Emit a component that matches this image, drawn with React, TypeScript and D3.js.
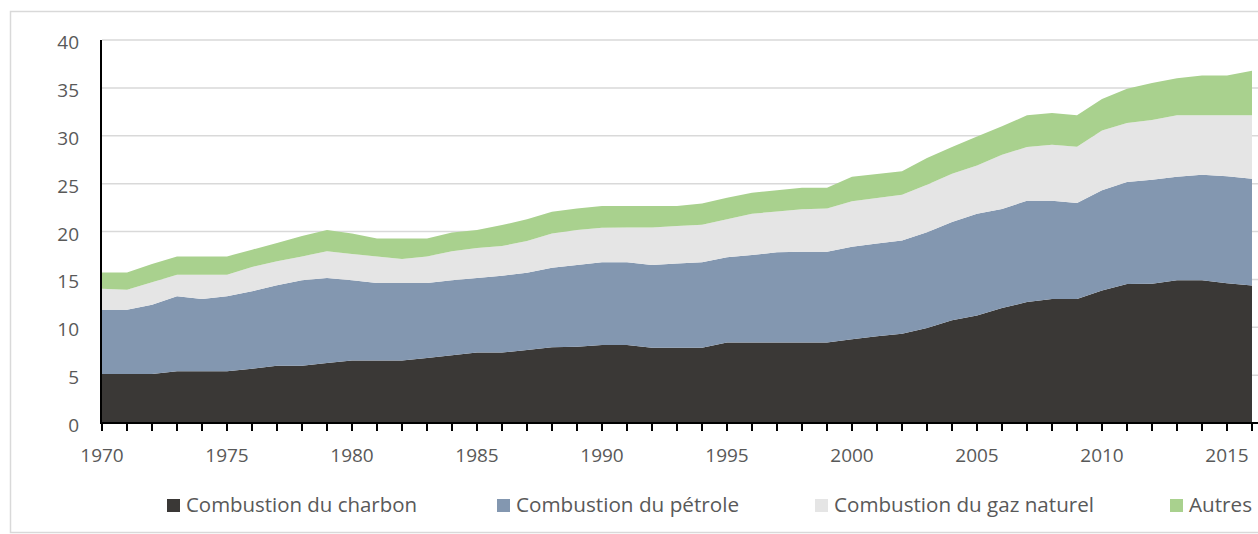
import React from "react";
import * as d3 from "d3";

const years = d3.range(1970, 2017);

// Gt CO2 par source
const charbon = [
  5.12, 5.12, 5.12, 5.4, 5.4, 5.4, 5.67, 5.99, 5.99, 6.27, 6.54, 6.54, 6.54, 6.79, 7.07, 7.35,
  7.35, 7.62, 7.9, 7.97, 8.14, 8.14, 7.87, 7.87, 7.87, 8.42, 8.42, 8.42, 8.42, 8.42, 8.74, 9.05,
  9.33, 9.92, 10.72, 11.24, 12.0, 12.63, 12.95, 12.95, 13.85, 14.51, 14.55, 14.9, 14.9, 14.6, 14.37,
];
const petrole = [
  6.71, 6.71, 7.24, 7.83, 7.55, 7.83, 8.08, 8.39, 8.91, 8.87, 8.36, 8.08, 8.08, 7.83, 7.83, 7.79,
  8.03, 8.08, 8.32, 8.53, 8.64, 8.64, 8.63, 8.8, 8.91, 8.88, 9.12, 9.4, 9.47, 9.47, 9.67, 9.7,
  9.74, 9.99, 10.27, 10.62, 10.35, 10.59, 10.27, 10.02, 10.45, 10.66, 10.85, 10.82, 11.03, 11.16, 11.14,
];
const gaz = [
  2.2, 2.09, 2.33, 2.26, 2.54, 2.26, 2.54, 2.5, 2.5, 2.79, 2.75, 2.78, 2.5, 2.78, 3.03, 3.13,
  3.1, 3.3, 3.58, 3.65, 3.62, 3.65, 3.93, 3.9, 3.92, 3.98, 4.31, 4.28, 4.43, 4.51, 4.74, 4.75,
  4.77, 4.98, 5.04, 5.04, 5.67, 5.6, 5.84, 5.88, 6.26, 6.16, 6.24, 6.41, 6.2, 6.37, 6.62,
];
const autres = [
  1.7, 1.81, 1.91, 1.91, 1.91, 1.91, 1.81, 1.92, 2.12, 2.22, 2.15, 1.88, 2.16, 1.88, 1.97, 1.88,
  2.19, 2.27, 2.27, 2.25, 2.26, 2.23, 2.23, 2.09, 2.23, 2.24, 2.19, 2.22, 2.24, 2.16, 2.56, 2.5,
  2.44, 2.78, 2.79, 3.03, 2.96, 3.31, 3.31, 3.28, 3.27, 3.58, 3.86, 3.87, 4.17, 4.17, 4.67,
];

const seriesNames = [
  "Combustion du charbon",
  "Combustion du pétrole",
  "Combustion du gaz naturel",
  "Autres",
];
const colors = ["#3a3836", "#8397b0", "#e5e5e5", "#a9d18e"];
const yTicks = [0, 5, 10, 15, 20, 25, 30, 35, 40];
const xTicks = [1970, 1975, 1980, 1985, 1990, 1995, 2000, 2005, 2010, 2015];
const legendX = [167, 497, 815, 1170];
const legendW = [231, 223, 260, 63];

const width = 1258;
const height = 534;
const marginLeft = 102;
const plotRight = 1252;
const plotTop = 40;
const plotBottom = 423;
const font = "'Open Sans', sans-serif";

export default function App() {
  const table = years.map((y, i) => ({
    year: y,
    s0: charbon[i],
    s1: petrole[i],
    s2: gaz[i],
    s3: autres[i],
  }));
  const stack = d3.stack<any>().keys(["s0", "s1", "s2", "s3"]);
  const layers = stack(table);

  const x = d3.scaleLinear([1970, 2016], [marginLeft, plotRight]);
  const y = d3.scaleLinear([0, 40], [plotBottom, plotTop]);

  const area = d3
    .area<any>()
    .x((d) => x(d.data.year))
    .y0((d) => y(d[0]))
    .y1((d) => y(d[1]));

  return (
    <svg
      width={width}
      height={height}
      style={{ position: "absolute", left: 0, top: 0, display: "block" }}
      fontFamily={font}
    >
      <rect x={0} y={0} width={width} height={height} fill="#fff" />
      <rect x={10.5} y={11.5} width={width} height={height - 13} fill="none" stroke="#d9d9d9" strokeWidth={1.5} />

      {/* grille */}
      {yTicks.slice(1).map((t) => (
        <line key={t} x1={marginLeft} x2={width} y1={y(t)} y2={y(t)} stroke="#d9d9d9" strokeWidth={1.5} />
      ))}

      {layers.map((layer, i) => (
        <path key={i} d={area(layer) as string} fill={colors[i]} />
      ))}

      {/* axes */}
      <line x1={marginLeft - 1} x2={marginLeft - 1} y1={y(40)} y2={plotBottom + 1} stroke="#000" strokeWidth={2} />
      <line x1={marginLeft - 2} x2={width} y1={plotBottom} y2={plotBottom} stroke="#000" strokeWidth={2} />
      {years.map((yr) => (
        <line key={yr} x1={x(yr)} x2={x(yr)} y1={plotBottom} y2={plotBottom + 8} stroke="#000" strokeWidth={2} />
      ))}

      {yTicks.map((t) => (
        <text key={t} x={79} y={y(t) + 9} textAnchor="end" fontSize={19} fill="#595959">
          {t}
        </text>
      ))}
      {xTicks.map((t) => (
        <text key={t} x={x(t)} y={462} textAnchor="middle" fontSize={19} fill="#595959">
          {t}
        </text>
      ))}

      {/* légende */}
      {seriesNames.map((name, i) => (
        <g key={name}>
          <rect x={legendX[i]} y={499} width={13} height={13} fill={colors[i]} />
          <text
            x={legendX[i] + 19}
            y={512}
            fontSize={20}
            fill="#595959"
            textLength={legendW[i]}
            lengthAdjust="spacingAndGlyphs"
          >
            {name}
          </text>
        </g>
      ))}
    </svg>
  );
}
